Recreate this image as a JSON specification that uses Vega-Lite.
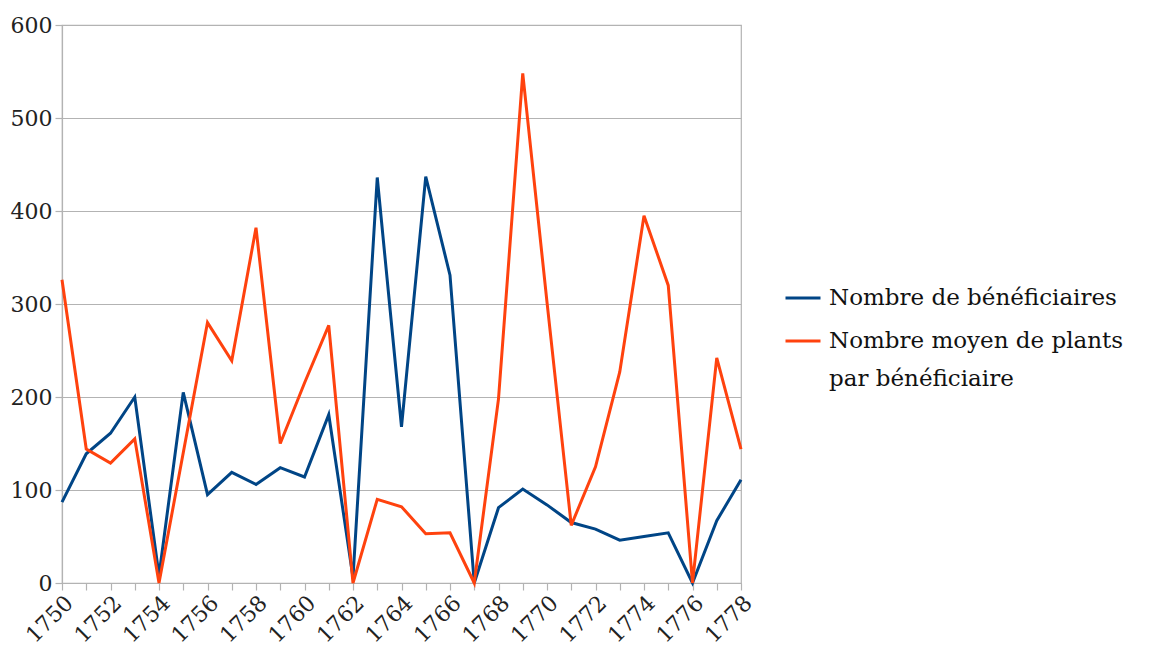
{
  "$schema": "https://vega.github.io/schema/vega-lite/v6.json",
  "width": 679,
  "height": 558,
  "autosize": {"type": "none"},
  "padding": {"left": 62, "top": 25, "right": 425, "bottom": 65},
  "background": "white",
  "config": {
    "font": "DejaVu Serif",
    "axis": {"labelFont": "DejaVu Serif"},
    "legend": {"labelFont": "DejaVu Serif"},
    "style": {"guide-label": {"lineHeight": 38}},
    "view": {"stroke": "#b3b3b3", "strokeWidth": 1.2}
  },
  "data": {
    "values": [
      {"year": 1750, "series": "Nombre de bénéficiaires", "value": 87},
      {"year": 1751, "series": "Nombre de bénéficiaires", "value": 139},
      {"year": 1752, "series": "Nombre de bénéficiaires", "value": 161},
      {"year": 1753, "series": "Nombre de bénéficiaires", "value": 200},
      {"year": 1754, "series": "Nombre de bénéficiaires", "value": 8},
      {"year": 1755, "series": "Nombre de bénéficiaires", "value": 205},
      {"year": 1756, "series": "Nombre de bénéficiaires", "value": 95},
      {"year": 1757, "series": "Nombre de bénéficiaires", "value": 119},
      {"year": 1758, "series": "Nombre de bénéficiaires", "value": 106},
      {"year": 1759, "series": "Nombre de bénéficiaires", "value": 124},
      {"year": 1760, "series": "Nombre de bénéficiaires", "value": 114},
      {"year": 1761, "series": "Nombre de bénéficiaires", "value": 181},
      {"year": 1762, "series": "Nombre de bénéficiaires", "value": 6},
      {"year": 1763, "series": "Nombre de bénéficiaires", "value": 436},
      {"year": 1764, "series": "Nombre de bénéficiaires", "value": 168},
      {"year": 1765, "series": "Nombre de bénéficiaires", "value": 437},
      {"year": 1766, "series": "Nombre de bénéficiaires", "value": 331},
      {"year": 1767, "series": "Nombre de bénéficiaires", "value": 0},
      {"year": 1768, "series": "Nombre de bénéficiaires", "value": 81},
      {"year": 1769, "series": "Nombre de bénéficiaires", "value": 101},
      {"year": 1770, "series": "Nombre de bénéficiaires", "value": 84},
      {"year": 1771, "series": "Nombre de bénéficiaires", "value": 65},
      {"year": 1772, "series": "Nombre de bénéficiaires", "value": 58},
      {"year": 1773, "series": "Nombre de bénéficiaires", "value": 46},
      {"year": 1774, "series": "Nombre de bénéficiaires", "value": 50},
      {"year": 1775, "series": "Nombre de bénéficiaires", "value": 54},
      {"year": 1776, "series": "Nombre de bénéficiaires", "value": 0},
      {"year": 1777, "series": "Nombre de bénéficiaires", "value": 67},
      {"year": 1778, "series": "Nombre de bénéficiaires", "value": 111},
      {"year": 1750, "series": "Nombre moyen de plants par bénéficiaire", "value": 326},
      {"year": 1751, "series": "Nombre moyen de plants par bénéficiaire", "value": 144},
      {"year": 1752, "series": "Nombre moyen de plants par bénéficiaire", "value": 129},
      {"year": 1753, "series": "Nombre moyen de plants par bénéficiaire", "value": 155},
      {"year": 1754, "series": "Nombre moyen de plants par bénéficiaire", "value": 0},
      {"year": 1755, "series": "Nombre moyen de plants par bénéficiaire", "value": 140},
      {"year": 1756, "series": "Nombre moyen de plants par bénéficiaire", "value": 280},
      {"year": 1757, "series": "Nombre moyen de plants par bénéficiaire", "value": 239},
      {"year": 1758, "series": "Nombre moyen de plants par bénéficiaire", "value": 382},
      {"year": 1759, "series": "Nombre moyen de plants par bénéficiaire", "value": 150},
      {"year": 1760, "series": "Nombre moyen de plants par bénéficiaire", "value": 215},
      {"year": 1761, "series": "Nombre moyen de plants par bénéficiaire", "value": 277},
      {"year": 1762, "series": "Nombre moyen de plants par bénéficiaire", "value": 0},
      {"year": 1763, "series": "Nombre moyen de plants par bénéficiaire", "value": 90},
      {"year": 1764, "series": "Nombre moyen de plants par bénéficiaire", "value": 82},
      {"year": 1765, "series": "Nombre moyen de plants par bénéficiaire", "value": 53},
      {"year": 1766, "series": "Nombre moyen de plants par bénéficiaire", "value": 54},
      {"year": 1767, "series": "Nombre moyen de plants par bénéficiaire", "value": 0},
      {"year": 1768, "series": "Nombre moyen de plants par bénéficiaire", "value": 198},
      {"year": 1769, "series": "Nombre moyen de plants par bénéficiaire", "value": 548},
      {"year": 1770, "series": "Nombre moyen de plants par bénéficiaire", "value": 302},
      {"year": 1771, "series": "Nombre moyen de plants par bénéficiaire", "value": 62},
      {"year": 1772, "series": "Nombre moyen de plants par bénéficiaire", "value": 125},
      {"year": 1773, "series": "Nombre moyen de plants par bénéficiaire", "value": 227},
      {"year": 1774, "series": "Nombre moyen de plants par bénéficiaire", "value": 395},
      {"year": 1775, "series": "Nombre moyen de plants par bénéficiaire", "value": 320},
      {"year": 1776, "series": "Nombre moyen de plants par bénéficiaire", "value": 0},
      {"year": 1777, "series": "Nombre moyen de plants par bénéficiaire", "value": 242},
      {"year": 1778, "series": "Nombre moyen de plants par bénéficiaire", "value": 144}
    ]
  },
  "mark": {"type": "line", "strokeWidth": 3, "strokeJoin": "miter"},
  "encoding": {
    "x": {
      "field": "year",
      "type": "quantitative",
      "scale": {"domain": [1750, 1778], "nice": false, "zero": false},
      "axis": {
        "title": null,
        "values": [1750,1751,1752,1753,1754,1755,1756,1757,1758,1759,1760,1761,1762,1763,1764,1765,1766,1767,1768,1769,1770,1771,1772,1773,1774,1775,1776,1777,1778],
        "format": "d",
        "labelExpr": "datum.value % 2 == 0 ? datum.label : ''",
        "labelAngle": -45,
        "labelFont": "DejaVu Serif",
        "labelFontSize": 22,
        "labelColor": "#222222",
        "labelPadding": 2,
        "labelOverlap": false,
        "labelBound": false,
        "labelFlush": false,
        "grid": false,
        "domainColor": "#b3b3b3",
        "domainWidth": 1.2,
        "tickColor": "#b3b3b3",
        "tickSize": 7,
        "tickWidth": 1.2
      }
    },
    "y": {
      "field": "value",
      "type": "quantitative",
      "scale": {"domain": [0, 600], "nice": false},
      "axis": {
        "title": null,
        "values": [0, 100, 200, 300, 400, 500, 600],
        "labelFont": "DejaVu Serif",
        "labelFontSize": 22,
        "labelColor": "#222222",
        "labelPadding": 3,
        "labelFlush": false,
        "grid": true,
        "gridColor": "#b3b3b3",
        "gridWidth": 1.2,
        "domainColor": "#b3b3b3",
        "domainWidth": 1.2,
        "tickColor": "#b3b3b3",
        "tickSize": 7,
        "tickWidth": 1.2
      }
    },
    "color": {
      "field": "series",
      "type": "nominal",
      "scale": {
        "domain": ["Nombre de bénéficiaires", "Nombre moyen de plants par bénéficiaire"],
        "range": ["#004586", "#ff420e"]
      },
      "legend": {
        "title": null,
        "orient": "none",
        "legendX": 722,
        "legendY": 254,
        "symbolType": "stroke",
        "symbolSize": 1225,
        "symbolStrokeWidth": 3,
        "labelFont": "DejaVu Serif",
        "labelFontSize": 23,
        "labelColor": "#111111",
        "labelLimit": 400,
        "labelOffset": 7,
        "rowPadding": 12,
        "labelExpr": "datum.label == 'Nombre moyen de plants par bénéficiaire' ? ['Nombre moyen de plants', 'par bénéficiaire'] : datum.label"
      }
    }
  }
}
